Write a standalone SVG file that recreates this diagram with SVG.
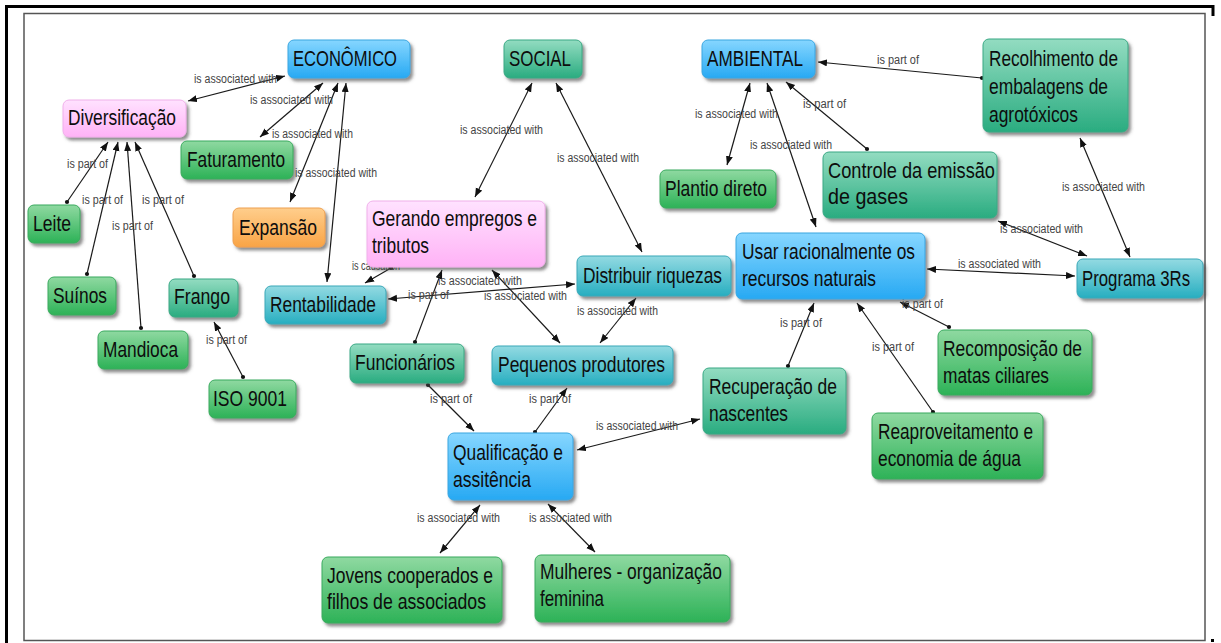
<svg xmlns="http://www.w3.org/2000/svg" width="1221" height="643" viewBox="0 0 1221 643">
  <defs>
    <linearGradient id="gBlue" x1="0" y1="0" x2="0" y2="1">
      <stop offset="0" stop-color="#86d6ff"/>
      <stop offset="1" stop-color="#27a9f3"/>
    </linearGradient>
    <linearGradient id="gTeal" x1="0" y1="0" x2="0" y2="1">
      <stop offset="0" stop-color="#93dcc1"/>
      <stop offset="1" stop-color="#2aac80"/>
    </linearGradient>
    <linearGradient id="gGreen" x1="0" y1="0" x2="0" y2="1">
      <stop offset="0" stop-color="#8fd9a1"/>
      <stop offset="1" stop-color="#2db257"/>
    </linearGradient>
    <linearGradient id="gCyan" x1="0" y1="0" x2="0" y2="1">
      <stop offset="0" stop-color="#93dae2"/>
      <stop offset="1" stop-color="#27aec0"/>
    </linearGradient>
    <linearGradient id="gPink" x1="0" y1="0" x2="0" y2="1">
      <stop offset="0" stop-color="#ffe2ff"/>
      <stop offset="1" stop-color="#ffb2f6"/>
    </linearGradient>
    <linearGradient id="gOrange" x1="0" y1="0" x2="0" y2="1">
      <stop offset="0" stop-color="#ffce8c"/>
      <stop offset="1" stop-color="#f9a446"/>
    </linearGradient>
    <filter id="shadow" x="-10%" y="-10%" width="130%" height="140%">
      <feDropShadow dx="2.5" dy="3" stdDeviation="1.6" flood-color="#444" flood-opacity="0.6"/>
    </filter>
    <marker id="arr" markerUnits="userSpaceOnUse" markerWidth="10" markerHeight="8" refX="9" refY="3.5" orient="auto-start-reverse">
      <path d="M0,0 L9,3.5 L0,7 z" fill="#111"/>
    </marker>
    <marker id="dot" markerUnits="userSpaceOnUse" markerWidth="6" markerHeight="6" refX="3" refY="3">
      <circle cx="3" cy="3" r="2.1" fill="#111"/>
    </marker>
  </defs>
  <style>
    .node rect { filter: url(#shadow); rx: 6px; ry: 6px; stroke-width: 1; }
    .blue rect { fill: url(#gBlue); stroke: #3aa6e0; }
    .teal rect { fill: url(#gTeal); stroke: #3aa884; }
    .green rect { fill: url(#gGreen); stroke: #3aaa5e; }
    .cyan rect { fill: url(#gCyan); stroke: #3aa8b8; }
    .pink rect { fill: url(#gPink); stroke: #f0b0ea; }
    .orange rect { fill: url(#gOrange); stroke: #eea050; }
    .node text { font-family: "Liberation Sans", Arial, sans-serif; font-size: 22px; fill: #0d0d0d; }
    .links line { stroke: #1a1a1a; stroke-width: 1.2; }
    .both { marker-start: url(#arr); marker-end: url(#arr); }
    .part { marker-start: url(#dot); marker-end: url(#arr); }
    .lbl text { font-family: "Liberation Sans", Arial, sans-serif; font-size: 12.5px; fill: #444; }
  </style>

  <!-- page frame -->
  <rect x="0" y="0" width="1221" height="643" fill="#fff"/>
  <path d="M6.5,643 V6.5 H1213 V16" fill="none" stroke="#000" stroke-width="3"/>
  <rect x="1211" y="639" width="3" height="3" fill="#000"/>
  <rect x="24" y="13.5" width="1181" height="627" fill="#fff" stroke="#555" stroke-width="1.5"/>

  <!-- connectors -->
  <g id="connectors" class="links">
    <line class="both" x1="188" y1="101" x2="285" y2="76"/>
    <line class="both" x1="323" y1="83" x2="260" y2="137"/>
    <line class="both" x1="338" y1="83" x2="290" y2="202"/>
    <line class="both" x1="346" y1="83" x2="327" y2="282"/>
    <line class="part" x1="67" y1="202" x2="108" y2="142"/>
    <line class="part" x1="87" y1="274" x2="118" y2="142"/>
    <line class="part" x1="141" y1="328" x2="127" y2="142"/>
    <line class="part" x1="194" y1="276" x2="135" y2="142"/>
    <line class="part" x1="243" y1="377" x2="214" y2="322"/>
    <line class="part" x1="391" y1="268" x2="365" y2="283"/>
    <line class="both" x1="575" y1="284" x2="388" y2="299"/>
    <line class="part" x1="415" y1="342" x2="442" y2="270"/>
    <line class="both" x1="492" y1="270" x2="560" y2="343"/>
    <line class="both" x1="636" y1="298" x2="600" y2="343"/>
    <line class="both" x1="532" y1="83" x2="475" y2="197"/>
    <line class="both" x1="556" y1="83" x2="642" y2="252"/>
    <line class="both" x1="750" y1="83" x2="727" y2="165"/>
    <line class="both" x1="767" y1="83" x2="816" y2="227"/>
    <line class="part" x1="867" y1="149" x2="786" y2="82"/>
    <line class="part" x1="982" y1="78" x2="818" y2="62"/>
    <line class="both" x1="1080" y1="138" x2="1130" y2="257"/>
    <line class="both" x1="998" y1="221" x2="1087" y2="256"/>
    <line class="both" x1="927" y1="269" x2="1075" y2="276"/>
    <line class="part" x1="949" y1="327" x2="900" y2="302"/>
    <line class="part" x1="788" y1="366" x2="814" y2="303"/>
    <line class="part" x1="933" y1="412" x2="857" y2="303"/>
    <line class="part" x1="428" y1="385" x2="474" y2="431"/>
    <line class="part" x1="535" y1="432" x2="567" y2="388"/>
    <line class="both" x1="577" y1="450" x2="700" y2="419"/>
    <line class="both" x1="480" y1="505" x2="440" y2="553"/>
    <line class="both" x1="548" y1="504" x2="595" y2="552"/>
  </g>

  <!-- linking phrases -->
  <g id="link-labels" class="lbl">
    <text x="194" y="83" textLength="83" lengthAdjust="spacingAndGlyphs">is associated with</text>
    <text x="250" y="104" textLength="83" lengthAdjust="spacingAndGlyphs">is associated with</text>
    <text x="272" y="138" textLength="81" lengthAdjust="spacingAndGlyphs">is associated with</text>
    <text x="295" y="177" textLength="82" lengthAdjust="spacingAndGlyphs">is associated with</text>
    <text x="67" y="168" textLength="41" lengthAdjust="spacingAndGlyphs">is part of</text>
    <text x="82" y="204" textLength="41" lengthAdjust="spacingAndGlyphs">is part of</text>
    <text x="142" y="204" textLength="42" lengthAdjust="spacingAndGlyphs">is part of</text>
    <text x="112" y="230" textLength="41" lengthAdjust="spacingAndGlyphs">is part of</text>
    <text x="206" y="344" textLength="41" lengthAdjust="spacingAndGlyphs">is part of</text>
    <text x="352" y="270" textLength="48" lengthAdjust="spacingAndGlyphs">is causation</text>
    <text x="438" y="285" textLength="84" lengthAdjust="spacingAndGlyphs">is associated with</text>
    <text x="408" y="299" textLength="41" lengthAdjust="spacingAndGlyphs">is part of</text>
    <text x="484" y="300" textLength="83" lengthAdjust="spacingAndGlyphs">is associated with</text>
    <text x="577" y="315" textLength="81" lengthAdjust="spacingAndGlyphs">is associated with</text>
    <text x="430" y="403" textLength="42" lengthAdjust="spacingAndGlyphs">is part of</text>
    <text x="529" y="403" textLength="42" lengthAdjust="spacingAndGlyphs">is part of</text>
    <text x="596" y="430" textLength="82" lengthAdjust="spacingAndGlyphs">is associated with</text>
    <text x="417" y="522" textLength="83" lengthAdjust="spacingAndGlyphs">is associated with</text>
    <text x="529" y="522" textLength="83" lengthAdjust="spacingAndGlyphs">is associated with</text>
    <text x="460" y="134" textLength="83" lengthAdjust="spacingAndGlyphs">is associated with</text>
    <text x="557" y="162" textLength="82" lengthAdjust="spacingAndGlyphs">is associated with</text>
    <text x="695" y="118" textLength="83" lengthAdjust="spacingAndGlyphs">is associated with</text>
    <text x="750" y="149" textLength="82" lengthAdjust="spacingAndGlyphs">is associated with</text>
    <text x="803" y="108" textLength="43" lengthAdjust="spacingAndGlyphs">is part of</text>
    <text x="877" y="64" textLength="42" lengthAdjust="spacingAndGlyphs">is part of</text>
    <text x="1062" y="191" textLength="83" lengthAdjust="spacingAndGlyphs">is associated with</text>
    <text x="1000" y="233" textLength="83" lengthAdjust="spacingAndGlyphs">is associated with</text>
    <text x="958" y="268" textLength="83" lengthAdjust="spacingAndGlyphs">is associated with</text>
    <text x="902" y="308" textLength="41" lengthAdjust="spacingAndGlyphs">is part of</text>
    <text x="780" y="327" textLength="42" lengthAdjust="spacingAndGlyphs">is part of</text>
    <text x="872" y="351" textLength="42" lengthAdjust="spacingAndGlyphs">is part of</text>
  </g>

  <!-- concepts -->
  <g id="n-economico" class="node blue"><rect x="288" y="40" width="122" height="38"/><text x="293" y="66" textLength="104" lengthAdjust="spacingAndGlyphs">ECONÔMICO</text></g>
  <g id="n-social" class="node teal"><rect x="504" y="40" width="78" height="38"/><text x="509" y="66" textLength="62" lengthAdjust="spacingAndGlyphs">SOCIAL</text></g>
  <g id="n-ambiental" class="node blue"><rect x="702" y="40" width="113" height="38"/><text x="707" y="66" textLength="96" lengthAdjust="spacingAndGlyphs">AMBIENTAL</text></g>
  <g id="n-recolhimento" class="node teal"><rect x="983" y="39" width="145" height="93"/>
    <text x="989" y="66" textLength="129" lengthAdjust="spacingAndGlyphs">Recolhimento de</text>
    <text x="989" y="94" textLength="119" lengthAdjust="spacingAndGlyphs">embalagens de</text>
    <text x="989" y="122" textLength="89" lengthAdjust="spacingAndGlyphs">agrotóxicos</text></g>
  <g id="n-controle" class="node teal"><rect x="823" y="152" width="174" height="66"/>
    <text x="828" y="178" textLength="167" lengthAdjust="spacingAndGlyphs">Controle da emissão</text>
    <text x="828" y="204" textLength="80" lengthAdjust="spacingAndGlyphs">de gases</text></g>
  <g id="n-plantio" class="node green"><rect x="660" y="170" width="116" height="38"/><text x="665" y="196" textLength="102" lengthAdjust="spacingAndGlyphs">Plantio direto</text></g>
  <g id="n-diversificacao" class="node pink"><rect x="63" y="100" width="123" height="37"/><text x="68" y="125" textLength="108" lengthAdjust="spacingAndGlyphs">Diversificação</text></g>
  <g id="n-faturamento" class="node green"><rect x="181" y="141" width="112" height="38"/><text x="187" y="167" textLength="98" lengthAdjust="spacingAndGlyphs">Faturamento</text></g>
  <g id="n-leite" class="node green"><rect x="28" y="205" width="52" height="38"/><text x="33" y="231" textLength="38" lengthAdjust="spacingAndGlyphs">Leite</text></g>
  <g id="n-suinos" class="node green"><rect x="48" y="277" width="68" height="38"/><text x="53" y="303" textLength="54" lengthAdjust="spacingAndGlyphs">Suínos</text></g>
  <g id="n-mandioca" class="node green"><rect x="98" y="331" width="90" height="38"/><text x="103" y="357" textLength="75" lengthAdjust="spacingAndGlyphs">Mandioca</text></g>
  <g id="n-frango" class="node teal"><rect x="169" y="279" width="69" height="38"/><text x="174" y="304" textLength="56" lengthAdjust="spacingAndGlyphs">Frango</text></g>
  <g id="n-iso" class="node green"><rect x="209" y="380" width="87" height="38"/><text x="213" y="406" textLength="74" lengthAdjust="spacingAndGlyphs">ISO 9001</text></g>
  <g id="n-expansao" class="node orange"><rect x="233" y="208" width="92" height="39"/><text x="239" y="235" textLength="78" lengthAdjust="spacingAndGlyphs">Expansão</text></g>
  <g id="n-rentabilidade" class="node cyan"><rect x="265" y="286" width="121" height="38"/><text x="270" y="312" textLength="106" lengthAdjust="spacingAndGlyphs">Rentabilidade</text></g>
  <g id="n-gerando" class="node pink"><rect x="367" y="201" width="178" height="66"/>
    <text x="372" y="226" textLength="165" lengthAdjust="spacingAndGlyphs">Gerando empregos e</text>
    <text x="372" y="253" textLength="57" lengthAdjust="spacingAndGlyphs">tributos</text></g>
  <g id="n-distribuir" class="node cyan"><rect x="577" y="256" width="154" height="40"/><text x="583" y="283" textLength="139" lengthAdjust="spacingAndGlyphs">Distribuir riquezas</text></g>
  <g id="n-funcionarios" class="node teal"><rect x="350" y="344" width="114" height="39"/><text x="355" y="370" textLength="100" lengthAdjust="spacingAndGlyphs">Funcionários</text></g>
  <g id="n-pequenos" class="node cyan"><rect x="492" y="346" width="181" height="39"/><text x="498" y="372" textLength="167" lengthAdjust="spacingAndGlyphs">Pequenos produtores</text></g>
  <g id="n-usar" class="node blue"><rect x="736" y="233" width="189" height="66"/>
    <text x="742" y="259" textLength="173" lengthAdjust="spacingAndGlyphs">Usar racionalmente os</text>
    <text x="742" y="286" textLength="134" lengthAdjust="spacingAndGlyphs">recursos naturais</text></g>
  <g id="n-programa" class="node cyan"><rect x="1077" y="259" width="126" height="39"/><text transform="translate(1082,286) scale(0.762,1)" x="0" y="0">Programa 3Rs</text></g>
  <g id="n-recomposicao" class="node green"><rect x="938" y="330" width="154" height="65"/>
    <text x="943" y="356" textLength="139" lengthAdjust="spacingAndGlyphs">Recomposição de</text>
    <text x="943" y="383" textLength="106" lengthAdjust="spacingAndGlyphs">matas ciliares</text></g>
  <g id="n-recuperacao" class="node teal"><rect x="703" y="368" width="143" height="66"/>
    <text x="709" y="394" textLength="128" lengthAdjust="spacingAndGlyphs">Recuperação de</text>
    <text x="709" y="421" textLength="79" lengthAdjust="spacingAndGlyphs">nascentes</text></g>
  <g id="n-reaproveitamento" class="node green"><rect x="872" y="413" width="171" height="66"/>
    <text x="878" y="439" textLength="155" lengthAdjust="spacingAndGlyphs">Reaproveitamento e</text>
    <text x="878" y="466" textLength="143" lengthAdjust="spacingAndGlyphs">economia de água</text></g>
  <g id="n-qualificacao" class="node blue"><rect x="448" y="433" width="125" height="67"/>
    <text x="453" y="460" textLength="110" lengthAdjust="spacingAndGlyphs">Qualificação e</text>
    <text x="453" y="487" textLength="78" lengthAdjust="spacingAndGlyphs">assitência</text></g>
  <g id="n-jovens" class="node green"><rect x="322" y="557" width="180" height="66"/>
    <text x="327" y="583" textLength="166" lengthAdjust="spacingAndGlyphs">Jovens cooperados e</text>
    <text x="327" y="609" textLength="159" lengthAdjust="spacingAndGlyphs">filhos de associados</text></g>
  <g id="n-mulheres" class="node green"><rect x="535" y="555" width="195" height="67"/>
    <text x="540" y="579" textLength="182" lengthAdjust="spacingAndGlyphs">Mulheres - organização</text>
    <text x="540" y="606" textLength="64" lengthAdjust="spacingAndGlyphs">feminina</text></g>
</svg>
